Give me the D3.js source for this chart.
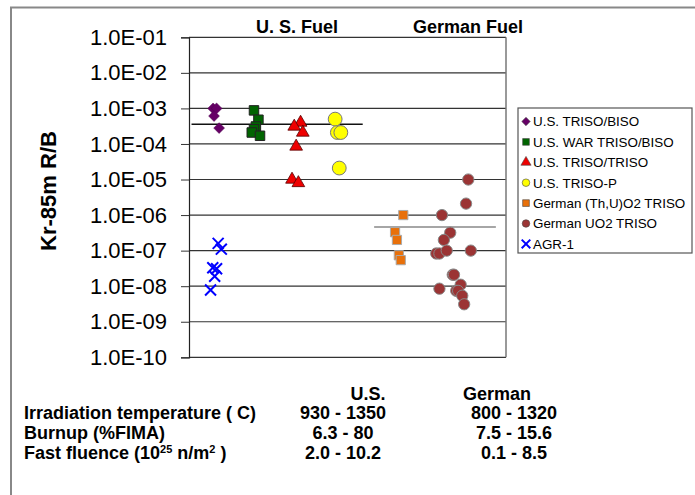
<!DOCTYPE html>
<html>
<head>
<meta charset="utf-8">
<script src="https://cdn.jsdelivr.net/npm/d3@7"></script>
<style>
  body { margin: 0; background: #fff; }
  svg { font-family: "Liberation Sans", Arial, sans-serif; }
</style>
</head>
<body>
<div id="vis"></div>
<script>
// Data ----------------------------------------------------------------------

var yTicks = [1e-1, 1e-2, 1e-3, 1e-4, 1e-5, 1e-6, 1e-7, 1e-8, 1e-9, 1e-10];

// x positions are on a 0-100 horizontal placement scale
var usBisoX = [7.6, 8.7, 7.9, 9.5],
    usBisoY = [1.0e-3, 1.0e-3, 6.1e-4, 2.8e-4];

var usWarX = [20.5, 21.9, 21.1, 20.5, 19.8, 22.4],
    usWarY = [8.8e-4, 4.8e-4, 3.1e-4, 2.6e-4, 2.1e-4, 1.7e-4];

var usTrisoX = [35.2, 33.2, 35.9, 33.8, 32.5, 34.5],
    usTrisoY = [4.0e-4, 3.1e-4, 2.1e-4, 8.5e-5, 1.0e-5, 8.0e-6];

var usTrisoPX = [46.1, 46.8, 47.9, 47.4],
    usTrisoPY = [5.0e-4, 2.1e-4, 2.1e-4, 2.1e-5];

var gerThuX = [67.6, 65.0, 65.6, 66.2, 66.8],
    gerThuY = [1.0e-6, 3.3e-7, 2.0e-7, 7.4e-8, 5.4e-8];

var gerUo2X = [88.1, 87.4, 79.8, 82.4, 80.4, 78.0, 79.0, 81.3, 88.9, 83.2, 83.6, 79.0, 85.7, 84.3, 84.9, 86.2, 86.8],
    gerUo2Y = [1.0e-5, 2.1e-6, 1.0e-6, 3.2e-7, 2.0e-7, 8.3e-8, 8.3e-8, 1.0e-7, 1.0e-7, 2.1e-8, 2.1e-8, 8.5e-9, 1.1e-8, 7.4e-9, 7.4e-9, 5.4e-9, 3.1e-9];

var agrX = [9.2, 10.2, 7.5, 8.7, 8.1, 6.8],
    agrY = [1.6e-7, 1.1e-7, 3.3e-8, 3.1e-8, 1.9e-8, 7.8e-9];

// mean lines: [x start, x end, value]
var usMean = [0.8, 54.8, 3.6e-4],
    gerMean = [58.4, 96.8, 4.6e-7];

var legendLabels = ["U.S. TRISO/BISO", "U.S. WAR TRISO/BISO", "U.S. TRISO/TRISO",
  "U.S. TRISO-P", "German (Th,U)O2 TRISO", "German UO2 TRISO", "AGR-1"];

var tableRows = ["Irradiation temperature ( C)", "Burnup (%FIMA)", "Fast fluence"],
    tableUS = ["930 - 1350", "6.3 - 80", "2.0 - 10.2"],
    tableGer = ["800 - 1320", "7.5 - 15.6", "0.1 - 8.5"];

// Setup ---------------------------------------------------------------------

var W = 695, H = 495;
var plotL = 189, plotR = 506, plotT = 37.3, plotB = 357.3;

var svg = d3.select("#vis").append("svg")
  .attr("width", W)
  .attr("height", H);

// slide frame
svg.append("path")
  .attr("d", "M11,495V7.5H695")
  .attr("fill", "none")
  .attr("stroke", "#888")
  .attr("stroke-width", 2);

var x = d3.scaleLinear().domain([0, 100]).range([plotL, plotR]);
var y = d3.scaleLog().domain([1e-10, 1e-1]).range([plotB, plotT]);

// Grid and axis -------------------------------------------------------------

svg.append("g")
  .selectAll("line")
  .data(yTicks)
  .enter().append("line")
  .attr("x1", plotL).attr("x2", plotR)
  .attr("y1", function(d) { return y(d); })
  .attr("y2", function(d) { return y(d); })
  .attr("stroke", "#333")
  .attr("stroke-width", 1.2);

svg.append("line")
  .attr("x1", plotR).attr("x2", plotR)
  .attr("y1", plotT).attr("y2", plotB)
  .attr("stroke", "#777").attr("stroke-width", 1.5);

var yAxis = d3.axisLeft(y)
  .tickValues(yTicks)
  .tickSize(8)
  .tickPadding(14)
  .tickFormat(function(d) { return d.toExponential(1).replace(/e-(\d)$/, "E-0$1").replace("e-", "E-"); });

var gy = svg.append("g")
  .attr("transform", "translate(" + plotL + ",0)")
  .call(yAxis);
gy.select(".domain").attr("stroke", "#222").attr("stroke-width", 1.2);
gy.selectAll(".tick line").attr("stroke", "#333");
gy.selectAll(".tick text")
  .attr("font-size", 22)
  .attr("font-family", "Liberation Sans, Arial, sans-serif")
  .attr("fill", "#000");

svg.append("text")
  .attr("transform", "translate(56,191) rotate(-90)")
  .attr("text-anchor", "middle")
  .attr("font-size", 22)
  .attr("font-weight", "bold")
  .text("Kr-85m R/B");

svg.append("text")
  .attr("x", 297).attr("y", 33)
  .attr("text-anchor", "middle")
  .attr("font-size", 18)
  .attr("font-weight", "bold")
  .text("U. S. Fuel");

svg.append("text")
  .attr("x", 468).attr("y", 33)
  .attr("text-anchor", "middle")
  .attr("font-size", 18)
  .attr("font-weight", "bold")
  .text("German Fuel");

// Mean lines ----------------------------------------------------------------

svg.append("line")
  .attr("x1", x(usMean[0])).attr("x2", x(usMean[1]))
  .attr("y1", y(usMean[2])).attr("y2", y(usMean[2]))
  .attr("stroke", "#111").attr("stroke-width", 1.6);

svg.append("line")
  .attr("x1", x(gerMean[0])).attr("x2", x(gerMean[1]))
  .attr("y1", y(gerMean[2])).attr("y2", y(gerMean[2]))
  .attr("stroke", "#888").attr("stroke-width", 1.6);

// Markers -------------------------------------------------------------------

function zip(xs, ys) {
  return xs.map(function(v, i) { return {x: v, y: ys[i]}; });
}

var series = [
  {xs: usBisoX, ys: usBisoY, shape: d3.symbolDiamond2, size: 75, fill: "#660066", stroke: "#4a004a", sw: 0.5},
  {xs: usWarX, ys: usWarY, shape: d3.symbolSquare, size: 90, fill: "#006400", stroke: "#222", sw: 1},
  {xs: usTrisoX, ys: usTrisoY, shape: d3.symbolTriangle, size: 70, fill: "#ee0000", stroke: "#550000", sw: 0.8},
  {xs: usTrisoPX, ys: usTrisoPY, shape: d3.symbolCircle, size: 150, fill: "#ffff00", stroke: "#777", sw: 1},
  {xs: gerThuX, ys: gerThuY, shape: d3.symbolSquare, size: 85, fill: "#e8700a", stroke: "#aaa", sw: 1},
  {xs: gerUo2X, ys: gerUo2Y, shape: d3.symbolCircle, size: 100, fill: "#9b3434", stroke: "#888", sw: 1},
  {xs: agrX, ys: agrY, shape: d3.symbolX, size: 80, fill: "none", stroke: "#0000ff", sw: 2}
];

series.forEach(function(s) {
  svg.append("g")
    .selectAll("path")
    .data(zip(s.xs, s.ys))
    .enter().append("path")
    .attr("transform", function(d) { return "translate(" + x(d.x) + "," + y(d.y) + ")"; })
    .attr("d", d3.symbol().type(s.shape).size(s.size))
    .attr("fill", s.fill)
    .attr("stroke", s.stroke)
    .attr("stroke-width", s.sw);
});

// Legend --------------------------------------------------------------------

var legend = svg.append("g");

legend.append("rect")
  .attr("x", 518).attr("y", 108)
  .attr("width", 174).attr("height", 145)
  .attr("fill", "#fff")
  .attr("stroke", "#555")
  .attr("stroke-width", 1.2);

var item = legend.selectAll(".item")
  .data(legendLabels)
  .enter().append("g")
  .attr("class", "item")
  .attr("transform", function(d, i) { return "translate(526," + (121.5 + i * 20.4) + ")"; });

item.append("path")
  .attr("d", function(d, i) {
    var s = series[i];
    var sz = s.shape === d3.symbolX ? 50 : 45;
    return d3.symbol().type(s.shape).size(sz)();
  })
  .attr("fill", function(d, i) { return series[i].fill; })
  .attr("stroke", function(d, i) { return series[i].shape === d3.symbolX ? series[i].stroke : "#444"; })
  .attr("stroke-width", function(d, i) { return series[i].shape === d3.symbolX ? 2 : 0.6; });

item.append("text")
  .attr("x", 7)
  .attr("dy", "0.36em")
  .attr("font-size", 13.4)
  .text(function(d) { return d; });

// Table ---------------------------------------------------------------------

var table = svg.append("g")
  .attr("font-weight", "bold")
  .attr("font-size", 18);

table.append("text")
  .attr("x", 368).attr("y", 400)
  .attr("text-anchor", "middle")
  .text("U.S.");

table.append("text")
  .attr("x", 497).attr("y", 400)
  .attr("text-anchor", "middle")
  .text("German");

tableRows.forEach(function(r, i) {
  var ty = 419 + i * 20;
  var t = table.append("text").attr("x", 24).attr("y", ty).text(r);
  if (i === 2) {
    t.append("tspan").text(" (10");
    t.append("tspan").attr("font-size", 11).attr("dy", -6).text("25");
    t.append("tspan").attr("dy", 6).text(" n/m");
    t.append("tspan").attr("font-size", 11).attr("dy", -6).text("2");
    t.append("tspan").attr("dy", 6).text("  )");
  }
  table.append("text")
    .attr("x", 343).attr("y", ty)
    .attr("text-anchor", "middle")
    .text(tableUS[i]);
  table.append("text")
    .attr("x", 514).attr("y", ty)
    .attr("text-anchor", "middle")
    .text(tableGer[i]);
});
</script>
</body>
</html>
